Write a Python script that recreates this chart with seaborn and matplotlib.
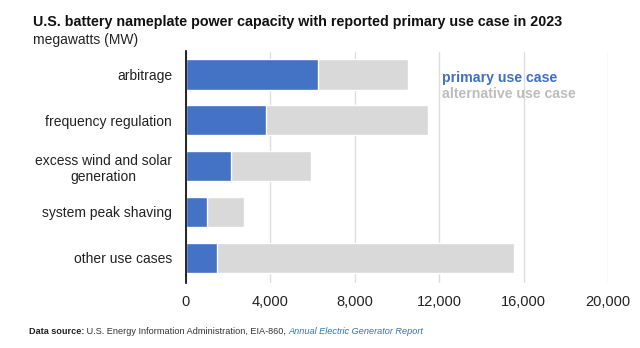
import matplotlib
matplotlib.use("Agg")
import matplotlib.pyplot as plt
import seaborn as sns
import pandas as pd
from matplotlib.ticker import FuncFormatter

categories = [
    "arbitrage",
    "frequency regulation",
    "excess wind and solar\ngeneration",
    "system peak shaving",
    "other use cases",
]
primary_mw = [6270, 3780, 2130, 1000, 1490]
alternative_mw = [4240, 7700, 3780, 1730, 14070]
x_ticks = [0, 4000, 8000, 12000, 16000, 20000]

BLUE = "#4472C4"
GRAY = "#D9D9D9"

df = pd.DataFrame({"use": categories, "primary": primary_mw, "alternative": alternative_mw})
df["total"] = df["primary"] + df["alternative"]

sns.set_theme(style="white")
plt.rcParams["font.family"] = ["Liberation Sans", "DejaVu Sans"]

W, H = 640, 348
fig = plt.figure(figsize=(W / 100, H / 100), dpi=100)
ax = fig.add_axes([186 / W, 1 - 283 / H, 422 / W, (283 - 51.5) / H])

sns.barplot(data=df, y="use", x="total", color=GRAY, width=0.66, ax=ax,
            orient="h", saturation=1, zorder=2)
sns.barplot(data=df, y="use", x="primary", color=BLUE, width=0.66, ax=ax,
            orient="h", saturation=1, zorder=3)

ax.set_xlim(0, 20000)
ax.set_ylim(4.55, -0.5)
ax.set_xticks(x_ticks)
ax.xaxis.set_major_formatter(FuncFormatter(lambda v, p: f"{int(v):,}"))
ax.set_xlabel("")
ax.set_ylabel("")
ax.grid(axis="x", color="#DDDDDD", linewidth=1, zorder=0)
ax.set_axisbelow(True)
for side in ["top", "right", "bottom"]:
    ax.spines[side].set_visible(False)
ax.spines["left"].set_color("black")
ax.spines["left"].set_linewidth(1.2)
ax.spines["left"].set_zorder(5)
ax.tick_params(axis="x", length=0, pad=9, labelsize=10.5, labelcolor="#222222")
ax.tick_params(axis="y", length=0, pad=10, labelsize=10, labelcolor="#222222")
for lbl in ax.get_yticklabels():
    lbl.set_horizontalalignment("right")
    lbl.set_multialignment("center")

# Inline legend
ax.text(12130, 0.08, "primary use case", color="#3F6FC6", fontsize=10.2,
        fontweight="bold", va="center", ha="left", zorder=6)
ax.text(12130, 0.43, "alternative use case", color="#BDBDBD", fontsize=10.2,
        fontweight="bold", va="center", ha="left", zorder=6)

# Title and unit
fig.text(33 / W, 1 - 22 / H, "U.S. battery nameplate power capacity with reported primary use case in 2023",
         fontsize=10.3, fontweight="bold", color="#111111", va="center", ha="left")
fig.text(33 / W, 1 - 40 / H, "megawatts (MW)", fontsize=10, color="#222222",
         va="center", ha="left")

# Source line built from consecutive text pieces
renderer = fig.canvas.get_renderer()
x = 29 / W
y = 1 - 331 / H
pieces = [
    ("Data source:", dict(fontweight="bold", color="#222222")),
    (" U.S. Energy Information Administration, EIA-860, ", dict(color="#333333")),
    ("Annual Electric Generator Report", dict(style="italic", color="#2E75B6")),
]
for s, kw in pieces:
    t = fig.text(x, y, s, fontsize=6.6, va="center", ha="left", **kw)
    bb = t.get_window_extent(renderer=renderer)
    x = bb.x1 / (W)

fig.savefig("out.png", dpi=100)
